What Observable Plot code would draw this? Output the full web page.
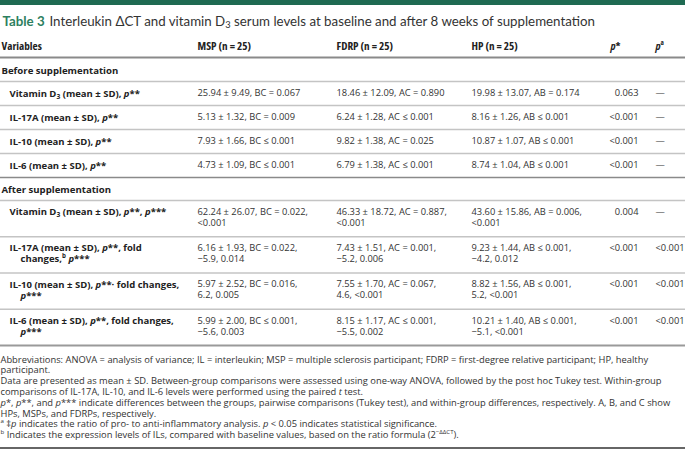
<!DOCTYPE html>
<html><head><meta charset="utf-8">
<script src="https://cdn.jsdelivr.net/npm/d3@7"></script>
<script src="https://cdn.jsdelivr.net/npm/@observablehq/plot@0.6"></script>
<style>
html,body{margin:0;padding:0;background:#fff;}
.cond{font-stretch:75%;}
</style></head><body><div id="chart"></div>
<script>
// ---------- DATA ----------
const tableNo = "Table 3";
const titleText = "Interleukin ΔCT and vitamin D~3~ serum levels at baseline and after 8 weeks of supplementation";
const headers = ["Variables", "MSP (n = 25)", "FDRP (n = 25)", "HP (n = 25)", "_p_*", "_p_^a^"];
const sections = ["Before supplementation", "After supplementation"];

const beforeVars = ["Vitamin D~3~ (mean ± SD), _p_**", "IL-17A (mean ± SD), _p_**", "IL-10 (mean ± SD), _p_**", "IL-6 (mean ± SD), _p_**"];
const beforeMSP = ["25.94 ± 9.49, BC = 0.067", "5.13 ± 1.32, BC = 0.009", "7.93 ± 1.66, BC ≤ 0.001", "4.73 ± 1.09, BC ≤ 0.001"];
const beforeFDRP = ["18.46 ± 12.09, AC = 0.890", "6.24 ± 1.28, AC ≤ 0.001", "9.82 ± 1.38, AC = 0.025", "6.79 ± 1.38, AC ≤ 0.001"];
const beforeHP = ["19.98 ± 13.07, AB = 0.174", "8.16 ± 1.26, AB ≤ 0.001", "10.87 ± 1.07, AB ≤ 0.001", "8.74 ± 1.04, AB ≤ 0.001"];
const beforeP = ["0.063", "<0.001", "<0.001", "<0.001"];
const beforePa = ["—", "—", "—", "—"];

const afterVars = [["Vitamin D~3~ (mean ± SD), _p_**, _p_***"], ["IL-17A (mean ± SD), _p_**, fold", "changes,^b^ _p_***"], ["IL-10 (mean ± SD), _p_**· fold changes,", "_p_***"], ["IL-6 (mean ± SD), _p_**, fold changes,", "_p_***"]];
const afterMSP = [["62.24 ± 26.07, BC = 0.022,", "<0.001"], ["6.16 ± 1.93, BC = 0.022,", "−5.9, 0.014"], ["5.97 ± 2.52, BC = 0.016,", "6.2, 0.005"], ["5.99 ± 2.00, BC ≤ 0.001,", "−5.6, 0.003"]];
const afterFDRP = [["46.33 ± 18.72, AC = 0.887,", "<0.001"], ["7.43 ± 1.51, AC = 0.001,", "−5.2, 0.006"], ["7.55 ± 1.70, AC = 0.067,", "4.6, <0.001"], ["8.15 ± 1.17, AC ≤ 0.001,", "−5.5, 0.002"]];
const afterHP = [["43.60 ± 15.86, AB = 0.006,", "<0.001"], ["9.23 ± 1.44, AB ≤ 0.001,", "−4.2, 0.012"], ["8.82 ± 1.56, AB ≤ 0.001,", "5.2, <0.001"], ["10.21 ± 1.40, AB ≤ 0.001,", "−5.1, <0.001"]];
const afterP = ["0.004", "<0.001", "<0.001", "<0.001"];
const afterPa = ["—", "<0.001", "<0.001", "<0.001"];

const footnotes = [
  "Abbreviations: ANOVA = analysis of variance; IL = interleukin; MSP = multiple sclerosis participant; FDRP = first-degree relative participant; HP, healthy",
  "participant.",
  "Data are presented as mean ± SD. Between-group comparisons were assessed using one-way ANOVA, followed by the post hoc Tukey test. Within-group",
  "comparisons of IL-17A, IL-10, and IL-6 levels were performed using the paired _t_ test.",
  "_p_*, _p_**, and _p_*** indicate differences between the groups, pairwise comparisons (Tukey test), and within-group differences, respectively. A, B, and C show",
  "HPs, MSPs, and FDRPs, respectively.",
  "^a^ ‡_p_ indicates the ratio of pro- to anti-inflammatory analysis. _p_ < 0.05 indicates statistical significance.",
  "^b^ Indicates the expression levels of ILs, compared with baseline values, based on the ratio formula (2^−ΔΔCT^)."
];

// ---------- LAYOUT ----------
const W = 685, H = 453;
const colX = {section: 1, label: 9, label2: 20, msp: 197, fdrp: 336, hp: 471, p: 638, pa: 655, pHead: 610, title: 49};
const L = {titleY: 21, headerY: 46, headerRule: 57, beforeLabel: 70, beforeTop: 81, beforeRowH: 24,
           afterLabelGap: 12, afterTopGap: 23, afterRowH: 36.25, line1: 11.5, line2: 22.5,
           footTop: 359, footStep: 10.8, bottomGap: 13};

const bodyCells = [], labelCells = [], pCells = [], paCells = [], rules = [];
const valueCols = [["msp", beforeMSP, afterMSP], ["fdrp", beforeFDRP, afterFDRP], ["hp", beforeHP, afterHP]];

rules.push({y: L.headerRule, w: 2, c: "#8a8a8a"});
rules.push({y: L.beforeTop, w: 1.5, c: "#c4c4c4"});
beforeVars.forEach((v, i) => {
  const yc = L.beforeTop + L.beforeRowH * (i + 0.5);
  labelCells.push({x: colX.label, y: yc, t: v});
  valueCols.forEach(([k, b]) => bodyCells.push({x: colX[k], y: yc, t: b[i]}));
  pCells.push({x: colX.p, y: yc, t: beforeP[i]});
  paCells.push({x: colX.pa, y: yc, t: beforePa[i]});
  const last = i === beforeVars.length - 1;
  rules.push({y: L.beforeTop + L.beforeRowH * (i + 1), w: 1.5, c: last ? "#8a8a8a" : "#c4c4c4"});
});
const beforeEnd = L.beforeTop + L.beforeRowH * beforeVars.length;
const afterLabelY = beforeEnd + L.afterLabelGap;
const afterTop = beforeEnd + L.afterTopGap;
rules.push({y: afterTop, w: 1.5, c: "#c4c4c4"});
afterVars.forEach((lines, i) => {
  const top = afterTop + L.afterRowH * i;
  lines.forEach((s, j) => labelCells.push({x: j ? colX.label2 : colX.label, y: top + (j ? L.line2 : L.line1), t: s}));
  valueCols.forEach(([k, , a]) => a[i].forEach((s, j) => bodyCells.push({x: colX[k], y: top + (j ? L.line2 : L.line1), t: s})));
  pCells.push({x: colX.p, y: top + L.line1, t: afterP[i]});
  paCells.push({x: colX.pa, y: top + L.line1, t: afterPa[i]});
  const last = i === afterVars.length - 1;
  rules.push({y: top + L.afterRowH, w: last ? 2 : 1.5, c: last ? "#9a9a9a" : "#c4c4c4"});
});
const footCells = footnotes.map((t, i) => ({x: 0, y: L.footTop + L.footStep * i, t}));
rules.push({y: L.footTop + L.footStep * (footnotes.length - 1) + L.bottomGap, w: 2, c: "#666"});

const headerCells = headers.map((t, i) => ({
  t, y: L.headerY,
  x: [colX.section, colX.msp, colX.fdrp, colX.hp, colX.pHead, colX.pa][i]
}));
const sectionCells = sections.map((t, i) => ({t, x: colX.section, y: i ? afterLabelY : L.beforeLabel}));

// ---------- PLOT ----------
const txt = {fill: "#333", textAnchor: "start", fontFamily: "'Open Sans', sans-serif"};
const chart = Plot.plot({
  width: W, height: H,
  margin: 0,
  x: {type: "identity", axis: null},
  y: {type: "identity", axis: null},
  marks: [
    Plot.ruleY([2], {x1: 0, x2: W, stroke: "#1f6a52", strokeWidth: 5}),
    Plot.ruleY(rules, {y: "y", x1: 0, x2: W, stroke: "c", strokeWidth: "w"}),
    Plot.text([tableNo], {x: 2, y: L.titleY, text: d => d, textAnchor: "start", fill: "#2d7f60",
      fontWeight: "bold", fontSize: 13.3, fontFamily: "Lato, sans-serif"}),
    Plot.text([titleText], {x: colX.title, y: L.titleY, text: d => d, textAnchor: "start", fill: "#333",
      fontSize: 13.3, fontFamily: "Lato, sans-serif"}),
    Plot.text(headerCells, {...txt, x: "x", y: "y", text: "t", fill: "#222", fontWeight: "bold", fontSize: 11.2, className: "cond"}),
    Plot.text(sectionCells, {...txt, x: "x", y: "y", text: "t", fill: "#222", fontWeight: "bold", fontSize: 9.6}),
    Plot.text(labelCells, {...txt, x: "x", y: "y", text: "t", fill: "#222", fontWeight: "bold", fontSize: 9.5}),
    Plot.text(bodyCells, {...txt, x: "x", y: "y", text: "t", fontSize: 9.3}),
    Plot.text(pCells, {...txt, x: "x", y: "y", text: "t", textAnchor: "end", fontSize: 9.3}),
    Plot.text(paCells, {...txt, x: "x", y: "y", text: "t", textAnchor: "start", fontSize: 9.3}),
    Plot.text(footCells, {...txt, x: "x", y: "y", text: "t", fontSize: 9.35})
  ]
});

// rich text: _italic_, ^superscript^, ~subscript~
function richify(svg) {
  const NS = "http://www.w3.org/2000/svg";
  svg.querySelectorAll("text").forEach(t => {
    const tsp = t.querySelectorAll("tspan");
    const targets = tsp.length ? [...tsp] : [t];
    targets.forEach(el => {
      const s = el.textContent;
      if (!/[_^~]/.test(s)) return;
      el.textContent = "";
      s.split(/(_[^_]*_|\^[^^]*\^|~[^~]*~)/g).forEach(part => {
        if (!part) return;
        const ts = document.createElementNS(NS, "tspan");
        if (part[0] === "_") { ts.setAttribute("font-style", "italic"); ts.textContent = part.slice(1, -1); }
        else if (part[0] === "^") { ts.setAttribute("baseline-shift", "super"); ts.setAttribute("font-size", "65%"); ts.textContent = part.slice(1, -1); }
        else if (part[0] === "~") { ts.setAttribute("baseline-shift", "-25%"); ts.setAttribute("font-size", "70%"); ts.textContent = part.slice(1, -1); }
        else ts.textContent = part;
        el.appendChild(ts);
      });
    });
  });
}
richify(chart);
document.getElementById("chart").appendChild(chart);
</script>
</body></html>
